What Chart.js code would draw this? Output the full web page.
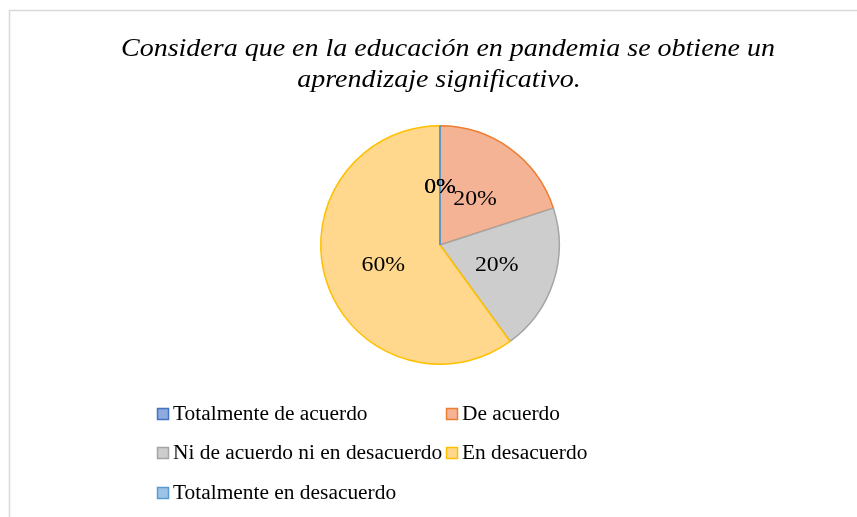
<!DOCTYPE html>
<html lang="es">
<head>
<meta charset="utf-8">
<script src="https://cdn.jsdelivr.net/npm/chart.js@4.4.0/dist/chart.umd.min.js"></script>
<style>
  html, body { margin: 0; padding: 0; background: #fff; }
  #wrap { position: relative; width: 857px; height: 517px; }
</style>
</head>
<body>
<div id="wrap"><canvas id="chart" width="857" height="517"></canvas></div>
<script>
// data
const labels = ['Totalmente de acuerdo', 'De acuerdo', 'Ni de acuerdo ni en desacuerdo', 'En desacuerdo', 'Totalmente en desacuerdo'];
const percents = [0, 20, 20, 60, 0];
const titleLines = ['Considera que en la educación en pandemia se obtiene un', 'aprendizaje significativo.'];

const fills = ['#8FAADC', '#F5B396', '#CDCDCD', '#FFD88E', '#9DC3E6'];
const borders = ['#4472C4', '#ED7D31', '#A5A5A5', '#FFC000', '#5B9BD5'];

// the original image is a bit stretched sideways
function wideText(ctx, txt, x, y, sx) {
  ctx.save();
  ctx.translate(x, y);
  ctx.scale(sx, 1);
  ctx.fillText(txt, 0, 0);
  ctx.restore();
}

// frame, title, slice labels and legend drawn on the canvas
const decor = {
  id: 'decor',
  beforeDraw(chart) {
    const ctx = chart.ctx;
    ctx.save();
    ctx.fillStyle = '#fff';
    ctx.fillRect(0, 0, chart.width, chart.height);
    ctx.strokeStyle = '#d9d9d9';
    ctx.lineWidth = 1.5;
    ctx.strokeRect(9.5, 10.5, chart.width + 20, chart.height + 20);
    ctx.restore();
  },
  afterDraw(chart) {
    const ctx = chart.ctx;
    const meta = chart.getDatasetMeta(0);
    const ds = chart.data.datasets[0];
    ctx.save();

    // title
    ctx.fillStyle = '#000';
    ctx.font = 'italic 25px "Liberation Serif", "Times New Roman", serif';
    ctx.textAlign = 'center';
    ctx.textBaseline = 'middle';
    wideText(ctx, titleLines[0], 448, 49, 1.12);
    wideText(ctx, titleLines[1], 439, 80, 1.12);

    // zero slices show as a thin line at their start angle
    meta.data.forEach((arc, i) => {
      if (ds.data[i] === 0) {
        const p = arc.getProps(['x', 'y', 'startAngle', 'outerRadius'], true);
        ctx.strokeStyle = borders[i];
        ctx.lineWidth = 1.5;
        ctx.beginPath();
        ctx.moveTo(p.x, p.y);
        ctx.lineTo(p.x + Math.cos(p.startAngle) * p.outerRadius, p.y + Math.sin(p.startAngle) * p.outerRadius);
        ctx.stroke();
      }
    });

    // slice labels
    ctx.font = '22px "Liberation Serif", "Times New Roman", serif';
    meta.data.forEach((arc, i) => {
      const c = arc.getCenterPoint();
      wideText(ctx, ds.data[i] + '%', c.x, c.y + 2, 1.08);
    });

    // legend
    ctx.font = '20px "Liberation Serif", "Times New Roman", serif';
    ctx.textAlign = 'left';
    const cols = [157, 446];
    const rows = [414, 453, 493];
    chart.data.labels.forEach((lab, i) => {
      const x = cols[i % 2];
      const y = rows[Math.floor(i / 2)];
      ctx.fillStyle = fills[i];
      ctx.fillRect(x + 0.5, y - 5.5, 11, 11);
      ctx.strokeStyle = borders[i];
      ctx.lineWidth = 1.5;
      ctx.strokeRect(x + 0.5, y - 5.5, 11, 11);
      ctx.fillStyle = '#000';
      wideText(ctx, lab, x + 16, y + 1, 1.07);
    });
    ctx.restore();
  }
};

new Chart(document.getElementById('chart'), {
  type: 'pie',
  data: {
    labels: labels,
    datasets: [{
      data: percents,
      backgroundColor: fills,
      borderColor: borders,
      borderWidth: 1.5
    }]
  },
  options: {
    responsive: false,
    animation: false,
    layout: { padding: { top: 125, bottom: 152, left: 320, right: 297 } },
    plugins: {
      legend: { display: false },
      title: { display: false },
      tooltip: { enabled: false }
    }
  },
  plugins: [decor]
});
</script>
</body>
</html>
